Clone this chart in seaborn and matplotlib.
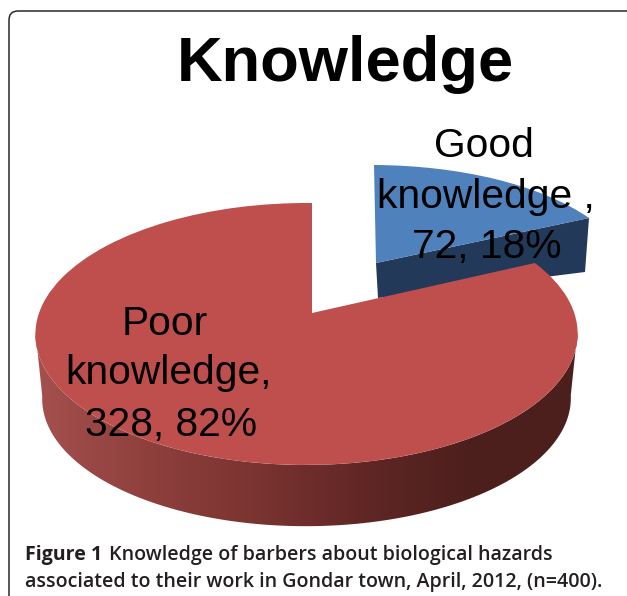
import numpy as np
import matplotlib
matplotlib.use("Agg")
import matplotlib.pyplot as plt
import matplotlib.transforms as mtransforms
from matplotlib.patches import FancyBboxPatch, Polygon
import seaborn as sns

title = "Knowledge"
categories = ["Good knowledge", "Poor knowledge"]
counts = [72, 328]
label_lines = [["Good", "knowledge ,", "72, 18%"], ["Poor", "knowledge,", "328, 82%"]]
caption_bold = "Figure 1"
caption_rest = "Knowledge of barbers about biological hazards"
caption_second = "associated to their work in Gondar town, April, 2012, (n=400)."

top_colors = ["#4f81bd", "#be4f4d"]
blue_wall = "#22395a"
red_wall_colors = ["#a5504e", "#8f403d", "#7b3431", "#612725", "#4c1f1d", "#4c1f1d"]

sns.set_theme(style="white")
plt.rcParams["font.family"] = ["Liberation Sans", "DejaVu Sans"]

fig, ax = plt.subplots(figsize=(6.27, 5.96), dpi=100)
fig.subplots_adjust(0, 0, 1, 1)


# perspective from the flat pie to pixels, the near side comes out bigger
class PieTilt(mtransforms.Transform):
    input_dims = 2
    output_dims = 2
    is_separable = False
    has_inverse = False

    def transform_non_affine(self, values):
        values = np.asarray(values, dtype=float)
        u, v = values[:, 0], values[:, 1]
        w = 1 + 0.16 * v + 0.02 * u
        return np.column_stack([312 + 267.5 * u / w, 313 - 127.6 * v / w])


tilt = PieTilt()

wedges, _ = ax.pie(counts, colors=top_colors, explode=[0.5, 0], startangle=90,
                   counterclock=False, wedgeprops=dict(linewidth=0))
ax.set_aspect("auto")

# angle where the two slices meet and direction the blue slice is pulled out
cut = np.deg2rad(90 - 360 * counts[0] / sum(counts))
mid = np.deg2rad(90 - 180 * counts[0] / sum(counts))
shift = 0.5 * np.array([np.cos(mid), np.sin(mid)])

# blue slice sits a bit skewed in the picture, line its corners up
corners = tilt.transform(np.array([shift, shift + [np.cos(cut), np.sin(cut)], shift + [0, 1]]))
corner_spots = np.array([[376.0, 263.0], [589.0, 218.0], [374.0, 165.0]])
solved = np.linalg.solve(np.column_stack([corners, np.ones(3)]), corner_spots)
blue_fix = mtransforms.Affine2D(np.vstack([solved.T, [0, 0, 1]]))

wedges[0].set_transform(tilt + blue_fix + ax.transData)
wedges[0].set_zorder(2)
wedges[1].set_transform(tilt + ax.transData)
wedges[1].set_zorder(3)


def lower_rim(points):
    # bottom edge of the pie, same ellipse moved down and a bit smaller
    out = points.copy()
    out[:, 0] = 306.5 + (points[:, 0] - 306.5) * 0.975
    out[:, 1] = 399 + (points[:, 1] - 334.5) * 0.975
    return out


# side of the red slice, a left to right gradient clipped to the rim
# the ends sit where top and bottom ellipse are widest so the outline stays closed
angles = np.deg2rad(np.linspace(-8, -172, 240))
rim = tilt.transform(np.column_stack([np.cos(angles), np.sin(angles)]))
low = lower_rim(rim)
wall_cmap = sns.blend_palette(red_wall_colors, as_cmap=True)
gradient = np.linspace(0, 1, 256)[None, :]
wall = ax.imshow(gradient, cmap=wall_cmap, extent=[35, 580, 540, 280], aspect="auto", zorder=1)
wall_shape = Polygon(np.vstack([rim, low[::-1]]), closed=True, transform=ax.transData)
wall.set_clip_path(wall_shape)

# cut face of the blue slice
edge = corner_spots[:2]
ax.add_patch(Polygon([edge[0], edge[1], edge[1] + [-4, 54], edge[0] + [2, 35]],
                     closed=True, facecolor=blue_wall, edgecolor="none", zorder=1.5))

ax.set_xlim(0, 627)
ax.set_ylim(596, 0)
ax.axis("off")

# rounded frame, runs off the right and bottom of the picture
ax.add_patch(FancyBboxPatch((17, 19), 640, 620, boxstyle="round,pad=8,rounding_size=9",
                            facecolor="none", edgecolor="#2a2a2a", linewidth=1.1,
                            clip_on=True, zorder=0.5))

ax.text(345, 81, title, fontsize=45.5, fontweight="bold", color="black",
        ha="center", va="baseline", zorder=5)

label_pos = [[(484, 157), (486, 208), (487, 258)], [(165, 335), (168, 384), (171, 436)]]
for lines, spots in zip(label_lines, label_pos):
    for line, (x, y) in zip(lines, spots):
        ax.text(x, y, line, fontsize=29.3, color="black", ha="center", va="baseline", zorder=5)

cap_font = ["Open Sans", "DejaVu Sans"]
cap_size = 14.1
first = ax.text(25, 560, caption_bold, fontsize=cap_size, fontweight="bold", family=cap_font,
                color="#231f20", ha="left", va="baseline", zorder=5)
fig.canvas.draw()
end = first.get_window_extent().x1
ax.text(end + 7, 560, caption_rest, fontsize=cap_size, fontweight=600, family=cap_font,
        color="#231f20", ha="left", va="baseline", zorder=5)
ax.text(25, 587, caption_second, fontsize=cap_size, fontweight=600, family=cap_font,
        color="#231f20", ha="left", va="baseline", zorder=5)

fig.savefig("out.png", dpi=100, facecolor="white")
plt.close()
